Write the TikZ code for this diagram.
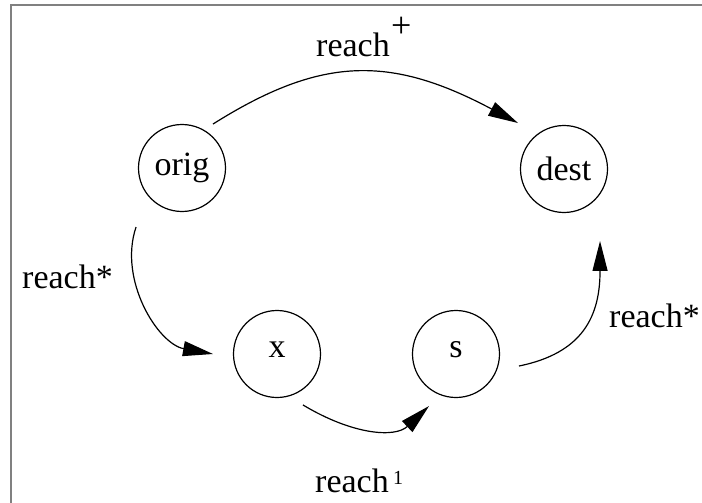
\documentclass[tikz,border=0pt]{standalone}
\usepackage{fontspec}
\setmainfont{Liberation Serif}
\usetikzlibrary{arrows.meta,calc}
\begin{document}
\begin{tikzpicture}[x=1pt,y=1pt,
  state/.style={circle,draw,line width=1.2pt,minimum size=87pt,inner sep=0pt,
    font=\fontsize{34}{40}\selectfont},
  lowtext/.style={text height=0.68em,text depth=0pt},
  edge/.style={line width=1.2pt,-{Triangle[length=30pt,width=15pt]}},
  lab/.style={inner sep=0pt,anchor=base west,font=\fontsize{34}{40}\selectfont},
  suplab/.style={inner sep=0pt,anchor=base west}]
\useasboundingbox (0,0) rectangle (702,-503);
% frame edges
\draw[gray,line width=1.5pt] (11,-503) -- (11,-5) -- (702,-5);

% states
\node[state] (orig) at (182,-168) {orig};
\node[state] (dest) at (564,-169) {dest};
\node[state,lowtext] (x) at (277,-354) {x};
\node[state,lowtext] (s) at (456,-354) {s};

% transitions
\draw[edge] ($(orig)+(54.8:53.8)$) .. controls +(108,68) and +(-128,68) .. ($(dest)+(135:65)$);
\draw[edge] ($(orig)+(232.1:74.8)$) .. controls +(-18,-53) and +(-55,10) .. ($(x)+(180:64)$);
\draw[edge] ($(x)+(-63:57.2)$) .. controls +(50,-30) and +(-34,-32) .. ($(s)+(242.6:58.6)$);
\draw[edge] ($(s)+(-10.8:64.1)$) .. controls +(64,13) and +(0,-75) .. ($(dest)+(-63.4:80.5)$);

% labels; superscripts are set as their own nodes
\node[lab] (lplus) at (316,-57) {reach};
\node[suplab,font=\fontsize{36}{40}\selectfont] (lplussup) at (391,-38) {+};
\node[lab] (lstarl) at (22,-288) {reach*};
\node[lab] (lstarr) at (609,-327) {reach*};
\node[lab] (lone) at (315,-492) {reach};
\node[suplab,font=\fontsize{20}{22}\selectfont] (lonesup) at (393,-484) {1};
\end{tikzpicture}
\end{document}
